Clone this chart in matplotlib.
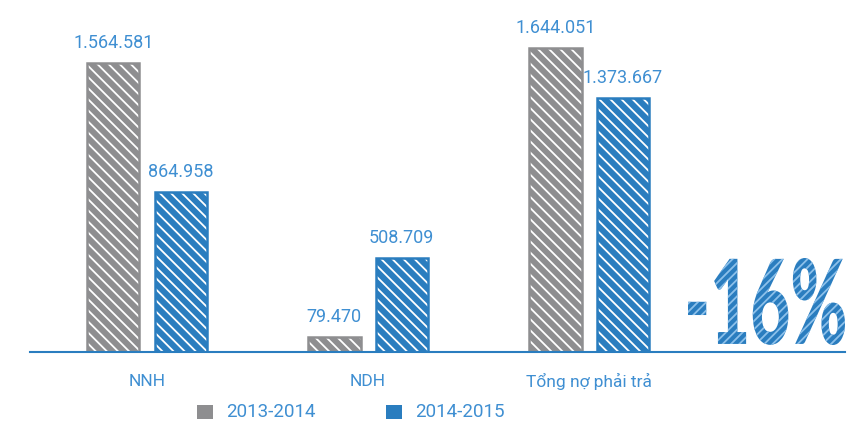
import matplotlib.pyplot as plt
from matplotlib.textpath import TextPath
from matplotlib.patches import PathPatch, Rectangle
from matplotlib.font_manager import FontProperties
from matplotlib.transforms import Affine2D
import numpy as np

# data
categories = ["NNH", "NDH", "Tổng nợ phải trả"]
series_names = ["2013-2014", "2014-2015"]
values_2013 = [1564581, 79470, 1644051]
values_2014 = [864958, 508709, 1373667]
change_text = "-16%"

GRAY = "#8e8e90"
BLUE = "#2a7dbf"
TEXT_BLUE = "#3f8fd2"
FONT = ["Roboto", "DejaVu Sans"]

plt.rcParams["hatch.linewidth"] = 1.3

def fmt(v):
    return f"{v:,}".replace(",", ".")

fig = plt.figure(figsize=(8.47, 4.24), dpi=100)
ax = fig.add_axes([0, 72 / 424, 1, 352 / 424])
ax.set_xlim(-0.665, 3.167)
ax.set_ylim(0, 1905800)
ax.axis("off")

x = np.arange(len(categories))
w = 0.236
off = 0.152

for vals, color, sign in [(values_2013, GRAY, -1), (values_2014, BLUE, 1)]:
    xs = x + sign * off
    # white diagonal strokes imitate the hand-drawn fill
    ax.bar(xs, vals, w, color=color, edgecolor="white", hatch="\\\\\\", linewidth=0)
    ax.bar(xs, vals, w, fill=False, edgecolor=color, linewidth=1.8)
    for xi, v in zip(xs, vals):
        ax.annotate(fmt(v), (xi, v), xytext=(0, 8), textcoords="offset points",
                    ha="center", va="bottom", color=TEXT_BLUE, fontsize=13,
                    family=FONT)

# baseline
fig.add_artist(plt.Line2D([30 / 847, 845 / 847], [72 / 424, 72 / 424],
                          color=BLUE, linewidth=1.5, transform=fig.transFigure))

# category labels
for xi, c in zip(x, categories):
    fig.text((147 + xi * 221) / 847, 1 - 381 / 424, c, ha="center", va="center",
             color=TEXT_BLUE, fontsize=12.5, family=FONT)

# legend
for lx, color, name in [(197, GRAY, series_names[0]), (386, BLUE, series_names[1])]:
    fig.add_artist(Rectangle((lx / 847, 1 - 419 / 424), 16 / 847, 14 / 424,
                             facecolor=color, edgecolor="none",
                             transform=fig.transFigure))
    fig.text((lx + 29) / 847, 1 - 412 / 424, name, ha="left", va="center",
             color=TEXT_BLUE, fontsize=13.5, family=FONT)

# big "-16%" sketch text
fp = FontProperties(family=["Lato", "DejaVu Sans"], weight=900, style="normal")
tp = TextPath((0, 0), change_text, size=1, prop=fp)
ext = tp.get_extents()
x0, x1 = 688 / 847, 845 / 847
y0, y1 = 1 - 345 / 424, 1 - 258 / 424
tr = (Affine2D().translate(-ext.x0, -ext.y0)
      .scale((x1 - x0) / ext.width, (y1 - y0) / ext.height)
      .translate(x0, y0))
big = PathPatch(tr.transform_path(tp), facecolor=BLUE, edgecolor="#8cc0ea",
                hatch="////", linewidth=0, transform=fig.transFigure)
fig.add_artist(big)

fig.savefig("out.png", dpi=100)
